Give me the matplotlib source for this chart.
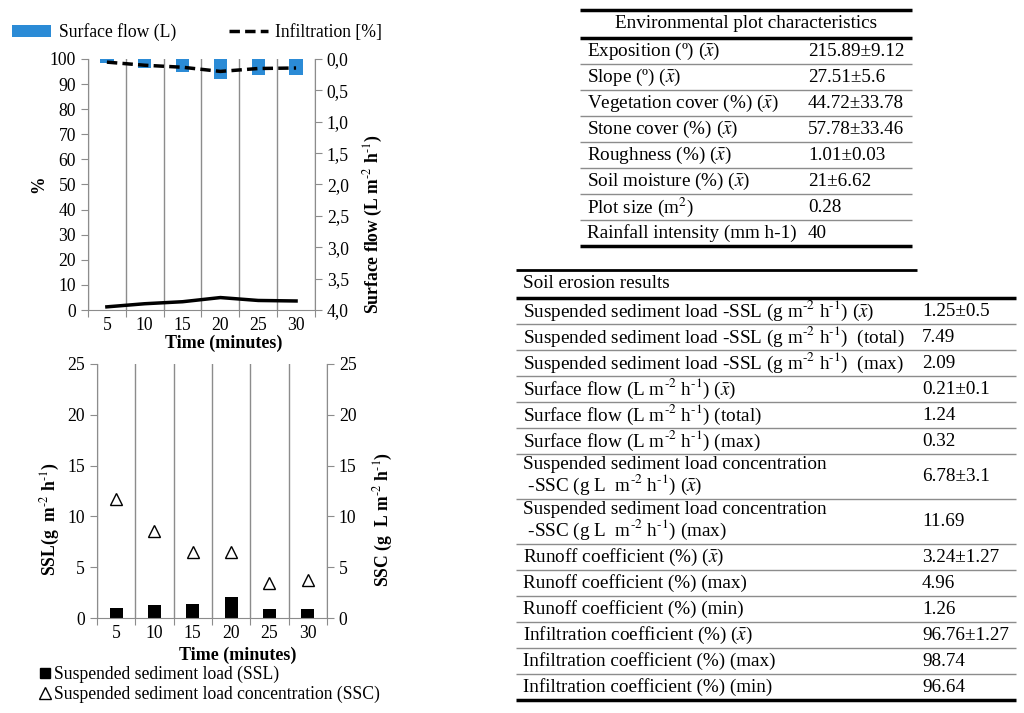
import matplotlib
matplotlib.use('Agg')
import matplotlib.pyplot as plt
from matplotlib.patches import Patch
from matplotlib.lines import Line2D
import numpy as np

plt.rcParams['font.family'] = ['Liberation Serif', 'DejaVu Serif']
plt.rcParams['mathtext.fontset'] = 'stix'

# data
times = ['5', '10', '15', '20', '25', '30']
surface_flow = [0.06, 0.14, 0.21, 0.32, 0.26, 0.25]      # L m-2 h-1 (right axis, inverted)
runoff = [1.26, 2.5, 3.3, 4.96, 3.8, 3.6]                # %
infiltration = [98.74, 97.5, 96.7, 95.04, 96.2, 96.4]    # %
ssl = [0.95, 1.30, 1.40, 2.09, 0.88, 0.87]               # g m-2 h-1
ssc = [11.69, 8.6, 6.5, 6.5, 3.4, 3.7]                   # g L m-2 h-1

pct_ticks = list(range(0, 101, 10))
flow_ticks = [0.0, 0.5, 1.0, 1.5, 2.0, 2.5, 3.0, 3.5, 4.0]
sed_ticks = [0, 5, 10, 15, 20, 25]

m2 = r'm$^{\text{-2}}$'
h1 = r'h$^{\text{-1}}$'
xbar = r'($\bar{x}$)'
env_title = 'Environmental plot characteristics'
env_labels = ['Exposition (º) ' + xbar, 'Slope (º) ' + xbar,
              'Vegetation cover (%) ' + xbar, 'Stone cover (%) ' + xbar,
              'Roughness (%) ' + xbar, 'Soil moisture (%) ' + xbar,
              r'Plot size (m$^{2}$)', 'Rainfall intensity (mm h-1)']
env_values = ['215.89±9.12', '27.51±5.6', '44.72±33.78', '57.78±33.46',
              '1.01±0.03', '21±6.62', '0.28', '40']

soil_title = 'Soil erosion results'
u_ssl = f'(g {m2} {h1})'
u_sf = f'(L {m2} {h1})'
u_ssc = f'(g L  {m2} {h1})'
soil_labels = ['Suspended sediment load -SSL ' + u_ssl + ' ' + xbar,
               'Suspended sediment load -SSL ' + u_ssl + '  (total)',
               'Suspended sediment load -SSL ' + u_ssl + '  (max)',
               'Surface flow ' + u_sf + ' ' + xbar,
               'Surface flow ' + u_sf + ' (total)',
               'Surface flow ' + u_sf + ' (max)',
               'Suspended sediment load concentration\n -SSC ' + u_ssc + ' ' + xbar,
               'Suspended sediment load concentration\n -SSC ' + u_ssc + ' (max)',
               'Runoff coefficient (%) ' + xbar,
               'Runoff coefficient (%) (max)',
               'Runoff coefficient (%) (min)',
               'Infiltration coefficient (%) ' + xbar,
               'Infiltration coefficient (%) (max)',
               'Infiltration coefficient (%) (min)']
soil_values = ['1.25±0.5', '7.49', '2.09', '0.21±0.1', '1.24', '0.32',
               '6.78±3.1', '11.69', '3.24±1.27', '4.96', '1.26',
               '96.76±1.27', '98.74', '96.64']

gray = '#8c8c8c'
blue = '#2b8bd6'
fs = 12.7

fig = plt.figure(figsize=(10.24, 7.13), dpi=100)


def category_axis(ax):
    n = len(times)
    x = np.arange(n)
    ax.set_xlim(-0.5, n - 0.5)
    ax.set_xticks(np.arange(n + 1) - 0.5)
    ax.set_xticklabels([])
    ax.set_xticks(x, minor=True)
    ax.set_xticklabels(times, minor=True, fontsize=fs)
    ax.tick_params(axis='x', which='major', length=5, color=gray)
    ax.tick_params(axis='x', which='minor', length=0, pad=5)
    ax.grid(axis='x', which='major', color=gray, lw=1)
    for s in ['top', 'right']:
        ax.spines[s].set_visible(False)
    for s in ['left', 'bottom']:
        ax.spines[s].set_color(gray)
    ax.tick_params(axis='y', length=5, color=gray, labelsize=fs)
    return x


def right_axis(ax):
    for s in ['top', 'left', 'bottom']:
        ax.spines[s].set_visible(False)
    ax.spines['right'].set_color(gray)
    ax.tick_params(axis='y', length=5, color=gray, labelsize=fs)


# top chart: infiltration / runoff / surface flow
ax1 = fig.add_axes([0.0859, 0.5652, 0.2217, 0.3521])
x = category_axis(ax1)
ax1b = ax1.twinx()
ax1b.bar(x, surface_flow, width=0.35, color=blue)
ax1b.set_ylim(4, 0)
ax1b.set_yticks(flow_ticks)
ax1b.set_yticklabels([f'{v:.1f}'.replace('.', ',') for v in flow_ticks])
right_axis(ax1b)
ax1.set_zorder(ax1b.get_zorder() + 1)
ax1.patch.set_visible(False)
ax1.plot(x, runoff, color='black', lw=2.5)
ax1.plot(x, infiltration, color='black', lw=2.5, ls=(0, (3, 1.5)))
ax1.set_ylim(0, 100)
ax1.set_yticks(pct_ticks)
ax1.set_ylabel('%', fontsize=fs, fontweight='bold')
ax1.yaxis.set_label_coords(-0.18, 0.5)
ax1.set_xlabel('Time (minutes)', fontsize=fs + 0.3, fontweight='bold')
ax1.xaxis.set_label_coords(0.6, -0.1)
ax1b.set_ylabel(f'Surface flow (L {m2} {h1})', fontsize=fs, fontweight='bold')
ax1b.yaxis.set_label_coords(1.207, 0.34)

fig.legend(handles=[Patch(facecolor=blue, label='Surface flow (L)'),
                    Line2D([], [], color='black', lw=2.5, ls=(0, (3, 1.5)),
                           label='Infiltration [%]')],
           loc='upper left', bbox_to_anchor=(-0.004, 0.99), ncol=2, frameon=False,
           fontsize=fs, handlelength=2.25, columnspacing=3.0, handletextpad=0.4)

# bottom chart: SSL bars and SSC triangles
ax2 = fig.add_axes([0.0947, 0.1332, 0.2246, 0.3563])
x = category_axis(ax2)
ax2.bar(x, ssl, width=0.34, color='black')
ax2.set_ylim(0, 25)
ax2.set_yticks(sed_ticks)
ax2.set_ylabel(f'SSL(g  {m2} {h1})', fontsize=fs, fontweight='bold')
ax2.yaxis.set_label_coords(-0.15, 0.39)
ax2.set_xlabel('Time (minutes)', fontsize=fs + 0.3, fontweight='bold')
ax2.xaxis.set_label_coords(0.61, -0.112)
ax2b = ax2.twinx()
ax2b.plot(x, ssc, ls='none', marker='^', ms=9, mfc='white', mec='black', mew=1)
ax2b.set_ylim(0, 25)
ax2b.set_yticks(sed_ticks)
right_axis(ax2b)
ax2b.set_ylabel(f'SSC (g  L {m2} {h1})', fontsize=fs, fontweight='bold')
ax2b.yaxis.set_label_coords(1.196, 0.39)

fig.legend(handles=[Line2D([], [], ls='none', marker='s', ms=7, color='black',
                           label='Suspended sediment load (SSL)'),
                    Line2D([], [], ls='none', marker='^', ms=8, mfc='white',
                           mec='black', label='Suspended sediment load concentration (SSC)')],
           loc='upper left', bbox_to_anchor=(0.027, 0.083), frameon=False,
           fontsize=fs, handlelength=0.6, handletextpad=0.2, labelspacing=0.12,
           borderpad=0.2)

# tables, laid out in pixel coordinates
tab = fig.add_axes([0, 0, 1, 1])
tab.set_xlim(0, 1024)
tab.set_ylim(713, 0)
tab.axis('off')
tfs = 13.8

# environmental table
x0, x1, xv = 580, 912, 808
tab.hlines(10, x0, x1, color='black', lw=2.5)
tab.text((x0 + x1) / 2, 24, env_title, ha='center', va='center', fontsize=tfs)
y = 38
tab.hlines(y, x0, x1, color='black', lw=2.5)
for i, (lab, val) in enumerate(zip(env_labels, env_values)):
    tab.text(x0 + 7, y + 13, lab, va='center', fontsize=tfs)
    tab.text(xv, y + 13, val, va='center', fontsize=tfs)
    y += 26
    if i < len(env_labels) - 1:
        tab.hlines(y, x0, x1, color=gray, lw=1)
tab.hlines(y, x0, x1, color='black', lw=2.5)

# soil erosion table
x0, x1, xv = 516, 1016, 922
tab.hlines(270, x0, 917, color='black', lw=2)
tab.text(x0 + 7, 284, soil_title, va='center', fontsize=tfs)
y = 298
tab.hlines(y, x0, x1, color='black', lw=2.5)
for i, (lab, val) in enumerate(zip(soil_labels, soil_values)):
    h = 45 if '\n' in lab else 26
    tab.text(x0 + 7, y + h / 2, lab, va='center', fontsize=tfs, linespacing=1.0)
    tab.text(xv, y + h / 2, val, va='center', fontsize=tfs)
    y += h
    if i < len(soil_labels) - 1:
        tab.hlines(y, x0, x1, color=gray, lw=1)
tab.hlines(y, x0, x1, color='black', lw=2.5)

fig.savefig('out.png', dpi=100)
